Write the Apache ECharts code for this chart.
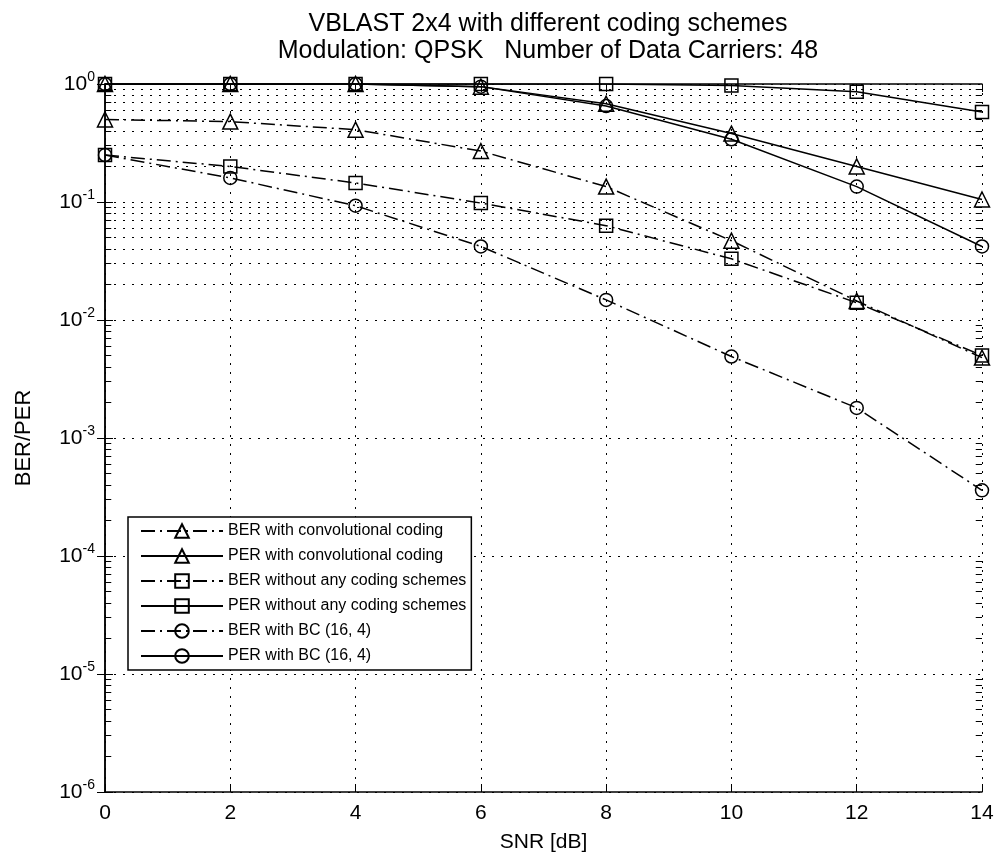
<!DOCTYPE html>
<html>
<head>
<meta charset="utf-8">
<script src="https://cdn.jsdelivr.net/npm/echarts@6/dist/echarts.min.js"></script>
<style>
  html, body { margin: 0; padding: 0; background: #fff; }
  #chart { width: 997px; height: 867px; }
</style>
</head>
<body>
<div id="chart"></div>
<script>
// values
const snr = [0, 2, 4, 6, 8, 10, 12, 14]
const berConv = [0.5, 0.48, 0.41, 0.27, 0.135, 0.047, 0.0145, 0.0048]
const perConv = [1, 1, 1, 0.95, 0.68, 0.38, 0.2, 0.105]
const berNone = [0.25, 0.2, 0.145, 0.098, 0.063, 0.033, 0.014, 0.005]
const perNone = [1, 1, 1, 1, 1, 0.97, 0.86, 0.58]
const berBC = [0.25, 0.16, 0.093, 0.042, 0.0148, 0.0049, 0.0018, 0.00036]
const perBC = [1, 1, 1, 0.95, 0.65, 0.34, 0.135, 0.042]

const names = [
  'BER with convolutional coding',
  'PER with convolutional coding',
  'BER without any coding schemes',
  'PER without any coding schemes',
  'BER with BC (16, 4)',
  'PER with BC (16, 4)'
]

const font = 'Liberation Sans, Arial, Helvetica, sans-serif'
const dashDot = [14, 5, 2, 5]
const dotted = [2, 7]

// minor log grid positions: 2..9 x 10^d
const minorGrid = []
for (let d = -6; d < 0; d++) {
  for (let k = 2; k <= 9; k++) minorGrid.push(k * Math.pow(10, d))
}

const pairs = ys => snr.map((x, i) => [x, ys[i]])

const mkSeries = (name, ys, symbol, dashed) => ({
  name,
  type: 'line',
  data: pairs(ys),
  symbol,
  symbolSize: symbol === 'triangle' ? 15 : 13,
  showSymbol: true,
  lineStyle: { color: '#000', width: 1.5, type: dashed ? dashDot : 'solid' },
  itemStyle: { color: 'rgba(0,0,0,0)', borderColor: '#000', borderWidth: 1.5 },
  emphasis: { disabled: true },
  animation: false,
  z: 5
})

const chart = echarts.init(document.getElementById('chart'))

const option = {
  backgroundColor: '#fff',
  animation: false,
  title: {
    text: 'VBLAST 2x4 with different coding schemes\nModulation: QPSK   Number of Data Carriers: 48',
    left: 543,
    top: 6,
    textAlign: 'center',
    textStyle: { fontFamily: font, fontSize: 25, fontWeight: 'normal', color: '#000', lineHeight: 27 }
  },
  grid: { left: 105, right: 15, top: 84, bottom: 75, show: false },
  legend: {
    data: names,
    orient: 'vertical',
    left: 128,
    top: 517,
    align: 'left',
    padding: [6, 5, 6, 12],
    itemGap: 9,
    itemWidth: 82,
    itemHeight: 17,
    backgroundColor: '#fff',
    borderColor: '#000',
    borderWidth: 1.5,
    textStyle: { fontFamily: font, fontSize: 16, color: '#000' },
    selectedMode: false
  },
  xAxis: [{
    type: 'value',
    min: 0,
    max: 14,
    interval: 2,
    name: 'SNR [dB]',
    nameLocation: 'middle',
    nameGap: 40,
    nameTextStyle: { fontFamily: font, fontSize: 21, color: '#000' },
    axisLine: { lineStyle: { color: '#000', width: 1.5 } },
    axisTick: { inside: true, length: 8, lineStyle: { color: '#000' } },
    axisLabel: { fontFamily: font, fontSize: 21, color: '#000', margin: 11 },
    splitLine: { show: true, lineStyle: { color: '#000', type: dotted, width: 1 } }
  }, {
    type: 'value',
    position: 'top',
    min: 0,
    max: 14,
    interval: 2,
    axisLine: { lineStyle: { color: '#000', width: 1.5 } },
    axisTick: { inside: true, length: 8, lineStyle: { color: '#000' } },
    axisLabel: { show: false },
    splitLine: { show: false }
  }],
  yAxis: [{
    type: 'log',
    logBase: 10,
    min: 1e-6,
    max: 1,
    name: 'BER/PER',
    nameLocation: 'middle',
    nameGap: 70,
    nameTextStyle: { fontFamily: font, fontSize: 22, color: '#000' },
    axisLine: { show: true, lineStyle: { color: '#000', width: 1.5 } },
    axisTick: { inside: true, length: 8, lineStyle: { color: '#000' } },
    axisLabel: {
      margin: 10,
      formatter: v => '{b|10}{s|' + Math.round(Math.log10(v)) + '}',
      rich: {
        b: { fontFamily: font, fontSize: 21, color: '#000' },
        s: { fontFamily: font, fontSize: 14, color: '#000', padding: [0, 0, 14, 0] }
      }
    },
    splitLine: { show: true, lineStyle: { color: '#000', type: dotted, width: 1 } }
  }, {
    type: 'log',
    logBase: 10,
    min: 1e-6,
    max: 1,
    position: 'right',
    axisLine: { show: true, lineStyle: { color: '#000', width: 1.5 } },
    axisTick: { inside: true, length: 8, lineStyle: { color: '#000' } },
    axisLabel: { show: false },
    splitLine: { show: false }
  }],
  series: [
    mkSeries(names[0], berConv, 'triangle', true),
    mkSeries(names[1], perConv, 'triangle', false),
    mkSeries(names[2], berNone, 'rect', true),
    mkSeries(names[3], perNone, 'rect', false),
    mkSeries(names[4], berBC, 'circle', true),
    mkSeries(names[5], perBC, 'circle', false),
    {
      name: 'grid-minor',
      type: 'line',
      data: [],
      silent: true,
      animation: false,
      markLine: {
        silent: true,
        symbol: ['none', 'none'],
        label: { show: false },
        animation: false,
        lineStyle: { color: '#000', type: dotted, width: 1 },
        data: minorGrid.map(v => ({ yAxis: v }))
      }
    },
    {
      name: 'ticks-minor',
      type: 'line',
      data: [],
      silent: true,
      animation: false,
      markLine: {
        silent: true,
        symbol: ['none', 'none'],
        label: { show: false },
        animation: false,
        lineStyle: { color: '#000', type: 'solid', width: 1 },
        data: minorGrid.flatMap(v => [
          [{ coord: [0, v] }, { coord: [0.1, v] }],
          [{ coord: [13.9, v] }, { coord: [14, v] }]
        ])
      }
    }
  ]
}

chart.setOption(option)
</script>
</body>
</html>
